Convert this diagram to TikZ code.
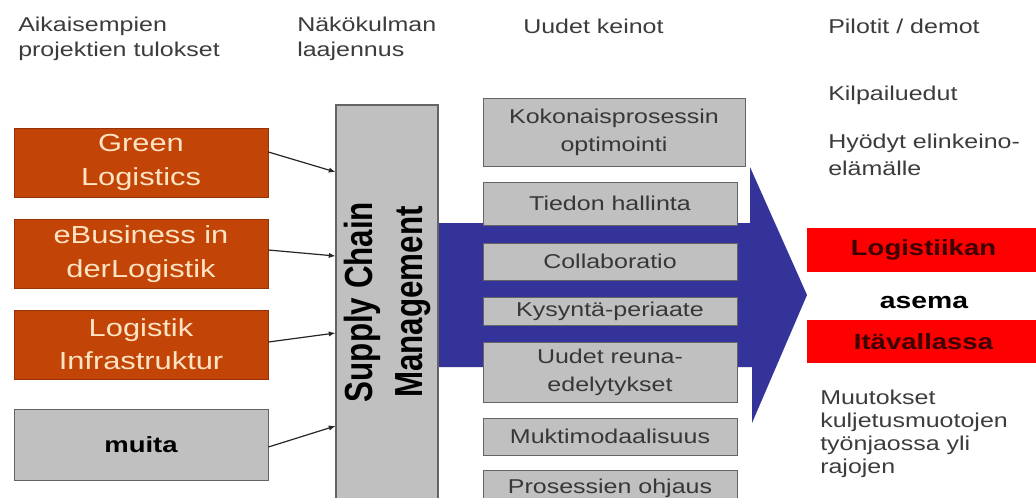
\documentclass[tikz,border=0pt]{standalone}
\usepackage{fontspec}
\usepackage{graphicx}
\usetikzlibrary{arrows.meta,calc}
\newfontfamily\wide{Liberation Sans}[FakeStretch=1.25]
\newfontfamily\plain{Liberation Sans}
\definecolor{rust}{RGB}{194,68,6}
\definecolor{rustedge}{RGB}{150,50,10}
\definecolor{rusttext}{RGB}{255,228,196}
\definecolor{boxgray}{RGB}{192,192,192}
\definecolor{boxedge}{RGB}{100,100,100}
\definecolor{boxtext}{RGB}{55,55,55}
\definecolor{headtext}{RGB}{60,60,60}
\definecolor{flowblue}{RGB}{51,51,153}
\definecolor{barred}{RGB}{255,0,0}
\definecolor{bartext}{RGB}{60,0,0}
\begin{document}
\begin{tikzpicture}[x=0.75pt,y=-0.75pt,
  hdr/.style={inner sep=0pt, align=left, text=headtext,
    font=\wide\fontsize{15}{18.75}\selectfont},
  note/.style={inner sep=0pt, align=left, text=headtext,
    font=\wide\fontsize{15}{20}\selectfont},
  project/.style={fill=rust, draw=rustedge, line width=0.6pt, text=rusttext,
    minimum width=254*0.75pt, minimum height=69*0.75pt, inner sep=0pt,
    align=center, font=\wide\fontsize{18.5}{25}\selectfont},
  other/.style={project, fill=boxgray, draw=boxedge, text=black,
    font=\wide\bfseries\fontsize{16.5}{20}\selectfont},
  means/.style={fill=boxgray, draw=boxedge, line width=0.7pt, text=boxtext,
    minimum width=254*0.75pt, inner sep=0pt, align=center,
    font=\wide\fontsize{15}{21}\selectfont},
  scmbox/.style={fill=boxgray, draw=boxedge, line width=0.8pt,
    minimum width=102*0.75pt, minimum height=405*0.75pt, inner sep=0pt},
  redbar/.style={fill=barred, draw=none, text=bartext,
    minimum width=234*0.75pt, inner sep=0pt,
    font=\wide\bfseries\fontsize{16.5}{20}\selectfont},
  feed/.style={draw=black!85, line width=0.9pt, -{Latex[length=5pt,width=4pt]}}
]
\useasboundingbox (0,0) rectangle (1036,497);
\clip (0,0) rectangle (1036,497);
\fill[white] (0,0) rectangle (1036,497);

% column headings
\node[hdr, anchor=west] (hprev) at (18,39) {Aikaisempien\\projektien tulokset};
\node[hdr, anchor=west] (hview) at (297,39) {Näkökulman\\laajennus};
\node[hdr, anchor=west] (hnew)  at (523,26) {Uudet keinot};
\node[hdr, anchor=west] (hpil)  at (828,26) {Pilotit / demot};

% broad arrow behind the middle column
\fill[flowblue] (438,223) -- (750,223) -- (750,167) -- (807,295)
  -- (752,423) -- (752,367) -- (438,367) -- cycle;

% earlier project results
\node[project] (green) at (141,162.5) {Green\\Logistics};
\node[project] (ebus)  at (141,254) {eBusiness in\\derLogistik};
\node[project] (infra) at (141,344.5) {Logistik\\Infrastruktur};
\node[other, minimum height=71*0.75pt] (muita) at (141,444.5) {muita};

% widened viewpoint
\node[scmbox] (scm) at (387,307.5) {};
\node[rotate=90, inner sep=0pt, font=\plain\bfseries\fontsize{23.5}{30}\selectfont] (scmtext) at (387,302)
  {\scalebox{1}[1.25]{\begin{tabular}{@{}c@{}}Supply Chain\\Management\end{tabular}}};

\draw[feed] ($(green.east)+(0,-10.5)$) -- ($(scm.west)+(0,-135.5)$);
\draw[feed] ($(ebus.east)+(0,-4)$)     -- ($(scm.west)+(0,-51.5)$);
\draw[feed] ($(infra.east)+(0,-2.5)$)  -- ($(scm.west)+(0,25.5)$);
\draw[feed] ($(muita.east)+(0,2.5)$)   -- ($(scm.west)+(0,118.5)$);

% new means
\node[means, minimum width=262*0.75pt, minimum height=68*0.75pt] (koko) at (614,132) {Kokonaisprosessin\\optimointi};
\node[means, minimum height=43*0.75pt] (tiedon) at (610,203.5) {Tiedon hallinta};
\node[means, minimum height=37*0.75pt] (collab) at (610,261.5) {Collaboratio};
\node[means, minimum height=28*0.75pt] (kysy)   at (610,311) {Kysyntä-periaate};
\node[means, minimum height=60*0.75pt] (reuna)  at (610,372) {Uudet reuna-\\edelytykset};
\node[means, minimum height=37*0.75pt] (multi)  at (610,436.5) {Muktimodaalisuus};
\node[means, minimum height=36*0.75pt] (ohjaus) at (610,488) {Prosessien ohjaus};

% pilots / demos
\node[note, anchor=west] (kilp) at (828,95) {Kilpailuedut};
\node[note, anchor=west] (hyod) at (828,155) {Hyödyt elinkeino-\\elämälle};
\node[redbar, minimum height=44*0.75pt] (lk)  at (923.5,250) {Logistiikan};
\node[inner sep=0pt, text=black, font=\wide\bfseries\fontsize{17}{20}\selectfont] (asema) at (924,303) {asema};
\node[redbar, minimum height=43*0.75pt] (ita) at (923.5,341.5) {Itävallassa};
\node[note, anchor=west, font=\wide\fontsize{15}{17.3}\selectfont] (muut) at (820,434)
  {Muutokset\\kuljetusmuotojen\\työnjaossa yli\\rajojen};
\end{tikzpicture}
\end{document}
